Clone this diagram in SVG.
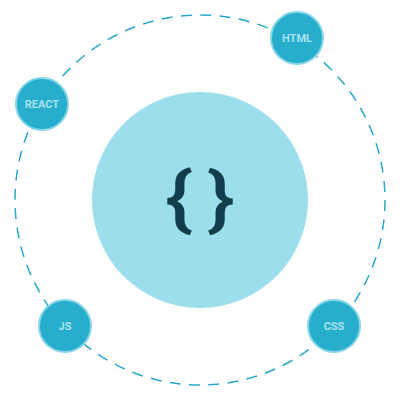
<svg xmlns="http://www.w3.org/2000/svg" width="400" height="400" viewBox="0 0 400 400">
<style>
.node circle{fill:#27aecd;stroke:#86d6e8;stroke-width:2}
.node text{fill:#a9e2ef;font-family:Roboto,"Liberation Sans",sans-serif;font-weight:bold;font-size:11px;text-anchor:middle;dominant-baseline:central}
.orbit{fill:none;stroke:#29a9c9;stroke-width:1.5;stroke-dasharray:11 8.37}
.brace{fill:#123e4b;font-family:Roboto,"Liberation Sans",sans-serif;font-weight:500;font-size:70px;text-anchor:middle;dominant-baseline:central}
</style>
<g id="connectors">
<circle class="orbit" cx="200" cy="200" r="185"/>
</g>
<g id="center">
<circle cx="200" cy="200" r="108" fill="#9ddeed"/>
<text class="brace" transform="translate(179 199) scale(1.2 1)">{</text>
<text class="brace" transform="translate(221 199) scale(1.2 1)">}</text>
</g>
<g id="html" class="node"><circle cx="297" cy="38" r="26"/><text x="297" y="38">HTML</text></g>
<g id="react" class="node"><circle cx="42" cy="104" r="26"/><text x="42" y="104">REACT</text></g>
<g id="js" class="node"><circle cx="65" cy="326" r="26"/><text x="65" y="326">JS</text></g>
<g id="css" class="node"><circle cx="334" cy="326" r="26"/><text x="334" y="326">CSS</text></g>
</svg>
